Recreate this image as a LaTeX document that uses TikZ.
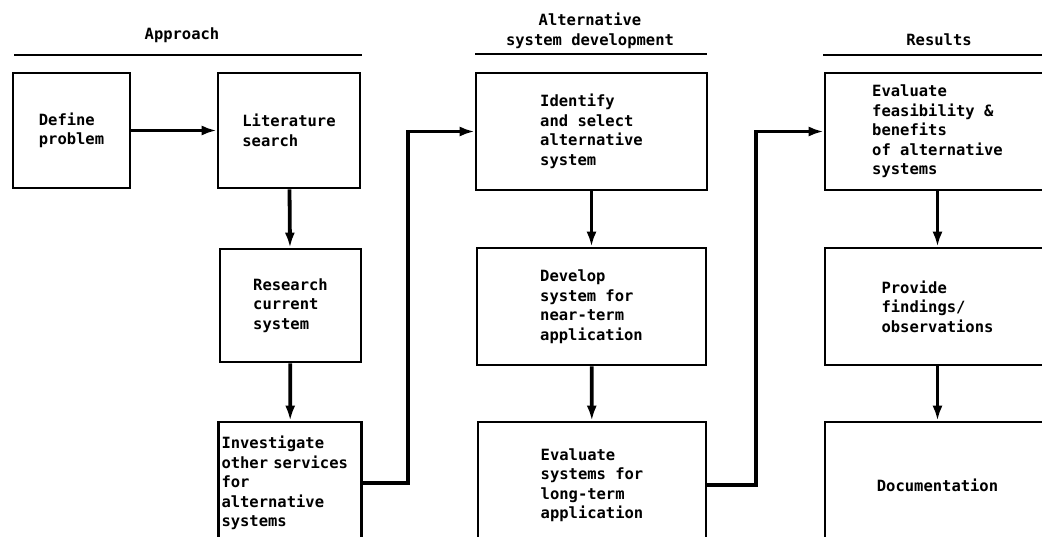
\documentclass[tikz,border=0pt]{standalone}
\usepackage{fontspec}
\setmonofont{DejaVu Sans Mono}
\usetikzlibrary{arrows.meta}

\begin{document}
\begin{tikzpicture}[x=1pt,y=-1pt]
\tikzset{StepBox/.style = {
draw,
line width = 2.6pt,
align = left,
inner sep = 3pt,
font = \ttfamily\bfseries\fontsize{15.5}{19.5}\selectfont},
FlowLine/.style = {
line width = 3.8pt,
-{Latex[length=15pt,width=10pt]}},
HeadText/.style = {
align = center,
font = \ttfamily\bfseries\fontsize{15.5}{19.5}\selectfont},
HeadRule/.style = {
line width = 2.6pt}}
\useasboundingbox (0,0) rectangle (1042,537);
\clip (0,0) rectangle (1042,537);
\node[HeadText] (approach) at (182,35) {Approach};
\node[HeadText] (altdev) at (590,31) {Alternative\\system development};
\node[HeadText] (results) at (939,40) {Results};
\draw[HeadRule] (14,55) -- (362,55);
\draw[HeadRule] (475,54) -- (707,54);
\draw[HeadRule] (823,55) -- (1042,55);
\node[StepBox,minimum width=117,minimum height=115] (define) at (71.5,130.5) {Define\\problem};
\node[StepBox,minimum width=142,minimum height=115] (litsearch) at (289,130.5) {Literature\\search};
\node[StepBox,minimum width=141,minimum height=113] (research) at (290.5,305.5) {Research\\current\\system};
\node[StepBox,minimum height=122,text width=137] (investigate) at (290,483) {Investigate\\other services\\for\\alternative\\systems};
\node[StepBox,minimum width=231,minimum height=117] (identify) at (591.5,131.5) {Identify\\and select\\alternative\\system};
\node[StepBox,minimum width=229,minimum height=117] (develop) at (591.5,306.5) {Develop\\system for\\near-term\\application};
\node[StepBox,minimum width=228,minimum height=126] (evalsys) at (592,485) {Evaluate\\systems for\\long-term\\application};
\node[StepBox,minimum width=225,minimum height=117] (feasible) at (937.5,131.5) {Evaluate\\feasibility \&\\benefits\\of alternative\\systems};
\node[StepBox,minimum width=225,minimum height=117] (provide) at (937.5,306.5) {Provide\\findings/\\observations};
\node[StepBox,minimum width=225,minimum height=126] (docs) at (937.5,485) {Documentation};
\draw[FlowLine] (define) -- (litsearch);
\draw[FlowLine] (litsearch) -- (research);
\draw[FlowLine] (research) -- (investigate);
\draw[FlowLine] (investigate.east) -- ++(45,0) |- (identify.west);
\draw[FlowLine] (identify) -- (develop);
\draw[FlowLine] (develop) -- (evalsys);
\draw[FlowLine] (evalsys.east) -- ++(49,0) |- (feasible.west);
\draw[FlowLine] (feasible) -- (provide);
\draw[FlowLine] (provide) -- (docs);
\end{tikzpicture}
\end{document}
